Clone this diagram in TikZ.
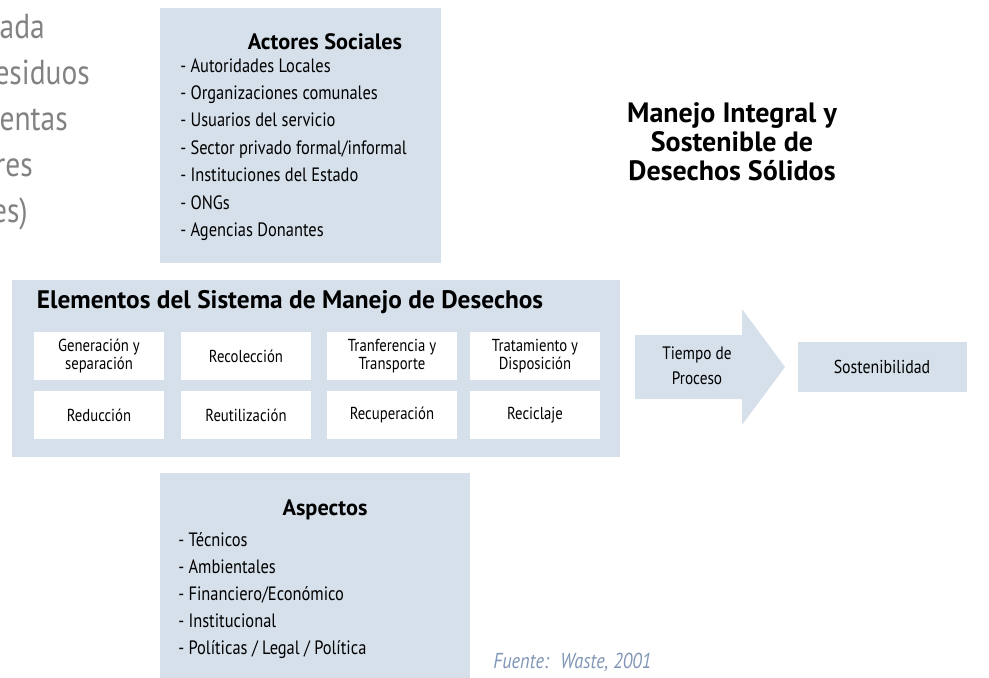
\documentclass[tikz,border=0pt]{standalone}
\usepackage{fontspec}
\setmainfont{PT Sans}[FakeStretch=0.85, BoldFeatures={FakeStretch=1.0}]
\usetikzlibrary{positioning}
\definecolor{panelblue}{RGB}{214,224,235}
\definecolor{sourceblue}{RGB}{128,150,182}
\definecolor{fadedgray}{RGB}{130,130,130}
\tikzset{
	panel/.style={fill=panelblue},
	cell/.style={fill=white, inner sep=0pt, minimum width=97.5pt, minimum height=36pt, align=center, font=\fontsize{13}{13.5}\selectfont},
	headline/.style={inner sep=0pt, font=\bfseries\fontsize{16.7}{19}\selectfont},
	itemlist/.style={inner sep=0pt, anchor=north west, align=left, font=\fontsize{14.5}{20.6}\selectfont},
	fadedline/.style={inner sep=0pt, anchor=base east, text=fadedgray, font=\fontsize{26}{30}\selectfont}
}

\begin{document}
\begin{tikzpicture}[x=0.75pt, y=-0.75pt]
			%%%%% START %%%%%
			\useasboundingbox (0, 0) rectangle (989, 678);
			
			% cut-off text on the left
			\begin{scope}
				\clip (0, 0) rectangle (150, 260);
				\node[fadedline] (cutA) at (45, 38) {ada};
				\node[fadedline] (cutB) at (90, 84) {esiduos};
				\node[fadedline] (cutC) at (68, 130) {entas};
				\node[fadedline] (cutD) at (33, 176) {res};
				\node[fadedline] (cutE) at (28, 222) {es)};
			\end{scope}
			
			% actores sociales
			\fill[panel] (160, 8) rectangle (441, 263);
			\node[headline] (actores) at (325, 42) {Actores Sociales};
			\node[itemlist] (actoreslist) at (180, 58) {- Autoridades Locales\\- Organizaciones comunales\\- Usuarios del servicio\\- Sector privado formal/informal\\- Instituciones del Estado\\- ONGs\\- Agencias Donantes};
			
			% title
			\node[inner sep=0pt, align=center, font=\bfseries\fontsize{21}{21.75}\selectfont] (title) at (732, 142) {Manejo Integral y\\Sostenible de\\Desechos Sólidos};
			
			% elementos del sistema
			\fill[panel] (12, 280) rectangle (620, 457);
			\node[headline, font=\bfseries\fontsize{19}{20}\selectfont] (elementos) at (290, 302) {Elementos del Sistema de Manejo de Desechos};
			
			\node[cell] (generacion) at (99, 356) {Generación y\\separación};
			\node[cell] (recoleccion) at (246, 356) {Recolección};
			\node[cell] (transferencia) at (392, 356) {Tranferencia y\\Transporte};
			\node[cell] (tratamiento) at (535, 356) {Tratamiento y\\Disposición};
			
			\node[cell] (reduccion) at (99, 415) {Reducción};
			\node[cell] (reutilizacion) at (246, 415) {Reutilización};
			\node[cell] (recuperacion) at (392, 415) {Recuperación};
			\node[cell] (reciclaje) at (535, 415) {Reciclaje};
			
			% arrow and result
			\fill[panel] (635, 335) -- (742, 335) -- (742, 309) -- (785, 367) -- (742, 425) -- (742, 399) -- (635, 399) -- cycle;
			\node[inner sep=0pt, align=center, font=\fontsize{13.5}{18.75}\selectfont] (tiempo) at (697, 366) {Tiempo de\\Proceso};
			
			\fill[panel] (798, 342) rectangle (967, 392);
			\node[inner sep=0pt, font=\fontsize{14}{15}\selectfont] (sostenibilidad) at (882, 367) {Sostenibilidad};
			
			% aspectos
			\fill[panel] (160, 473) rectangle (470, 678);
			\node[headline] (aspectos) at (325, 510) {Aspectos};
			\node[itemlist, font=\fontsize{14.5}{20.3}\selectfont] (aspectoslist) at (178, 532) {- Técnicos\\- Ambientales\\- Financiero/Económico\\- Institucional\\- Políticas / Legal / Política};
			
			\node[inner sep=0pt, anchor=west, text=sourceblue, font=\itshape\fontsize{16.2}{17}\selectfont] (fuente) at (493, 662) {Fuente:~ Waste, 2001};
			
			%%%%% END %%%%%
		\end{tikzpicture}
\end{document}
